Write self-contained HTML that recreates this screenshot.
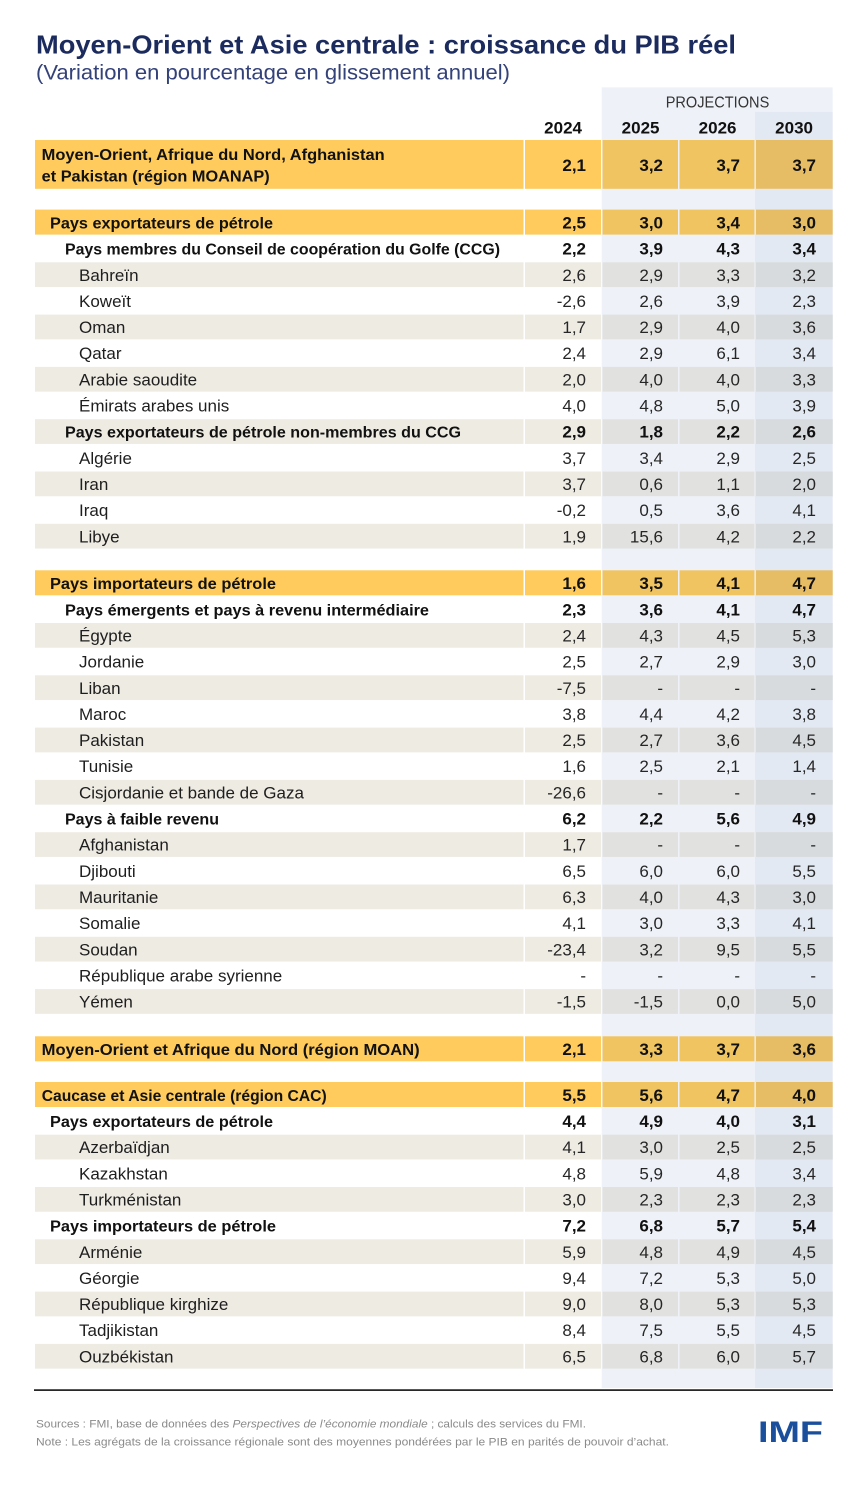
<!DOCTYPE html>
<html lang="fr">
<head>
<meta charset="utf-8">
<style>
html,body{margin:0;padding:0;background:#fff;}
body{width:867px;height:1488px;overflow:hidden;}
svg{display:block;}
.lr{font-family:"Liberation Sans",sans-serif;font-size:17px;fill:#1e1e1e;}
.lb{font-family:"Liberation Sans",sans-serif;font-size:16px;font-weight:bold;fill:#111;}
.n{font-family:"Liberation Sans",sans-serif;font-size:17px;fill:#262626;text-anchor:end;}
.nb{font-family:"Liberation Sans",sans-serif;font-size:17px;font-weight:bold;fill:#111;text-anchor:end;}
</style>
</head>
<body>
<svg width="867" height="1488" viewBox="0 0 867 1488" xmlns="http://www.w3.org/2000/svg">
<defs>
<g id="gy">
<rect x="35" y=".7" width="488.5" height="24.75" fill="#eeebe3"/>
<rect x="525" y=".7" width="76" height="24.75" fill="#eeebe3"/>
<rect x="602.5" y=".7" width="75.5" height="24.75" fill="#e1e2df"/>
<rect x="679.5" y=".7" width="75" height="24.75" fill="#e1e2df"/>
<rect x="756" y=".7" width="76.7" height="24.75" fill="#d8dbdd"/>
</g>
<g id="yl">
<rect x="35" y=".3" width="488.5" height="25" fill="#fecb5c"/>
<rect x="525" y=".3" width="76" height="25" fill="#fecb5c"/>
<rect x="602.5" y=".3" width="75.5" height="25" fill="#f0c461"/>
<rect x="679.5" y=".3" width="75" height="25" fill="#f0c461"/>
<rect x="756" y=".3" width="76.7" height="25" fill="#e6bd65"/>
</g>
</defs>

<!-- Title -->
<text x="36" y="53.5" font-family="Liberation Sans, sans-serif" font-size="26" font-weight="bold" fill="#1c2b5e" textLength="700" lengthAdjust="spacingAndGlyphs">Moyen-Orient et Asie centrale : croissance du PIB réel</text>
<text x="36" y="79.5" font-family="Liberation Sans, sans-serif" font-size="21" fill="#34427a" textLength="474" lengthAdjust="spacingAndGlyphs">(Variation en pourcentage en glissement annuel)</text>

<!-- Projection shading -->
<rect x="601.7" y="87.3" width="153.3" height="1300.7" fill="#eef2f8"/>
<rect x="755" y="87.3" width="77.7" height="24.4" fill="#eef2f8"/>
<rect x="755" y="111.7" width="77.7" height="1276.3" fill="#e3e9f2"/>

<text x="665.7" y="107.3" font-family="Liberation Sans, sans-serif" font-size="16" fill="#333" textLength="103.6" lengthAdjust="spacingAndGlyphs">PROJECTIONS</text>
<text class="nb" y="133.3"><tspan x="582">2024</tspan><tspan x="659.5">2025</tspan><tspan x="736.5">2026</tspan><tspan x="813">2030</tspan></text>

<!-- MOANAP -->
<g transform="translate(0,140)">
<rect x="35" y="0" width="488.5" height="48.8" fill="#fecb5c"/>
<rect x="525" y="0" width="76" height="48.8" fill="#fecb5c"/>
<rect x="602.5" y="0" width="75.5" height="48.8" fill="#f0c461"/>
<rect x="679.5" y="0" width="75" height="48.8" fill="#f0c461"/>
<rect x="756" y="0" width="76.7" height="48.8" fill="#e6bd65"/>
<text class="lb" x="41.7" y="20" textLength="343" lengthAdjust="spacingAndGlyphs">Moyen-Orient, Afrique du Nord, Afghanistan</text>
<text class="lb" x="41.7" y="41.7" textLength="228" lengthAdjust="spacingAndGlyphs">et Pakistan (région MOANAP)</text>
<text class="nb" y="31"><tspan x="586">2,1</tspan><tspan x="663">3,2</tspan><tspan x="740">3,7</tspan><tspan x="816">3,7</tspan></text>
</g>

<!-- Section 1 -->
<g transform="translate(0,209.3)"><use href="#yl"/>
<text class="lb" x="50" y="19.2" textLength="223" lengthAdjust="spacingAndGlyphs">Pays exportateurs de pétrole</text>
<text class="nb" y="19.2"><tspan x="586">2,5</tspan><tspan x="663">3,0</tspan><tspan x="740">3,4</tspan><tspan x="816">3,0</tspan></text></g>

<g transform="translate(0,235.45)">
<text class="lb" x="65" y="19.2" textLength="435" lengthAdjust="spacingAndGlyphs">Pays membres du Conseil de coopération du Golfe (CCG)</text>
<text class="nb" y="19.2"><tspan x="586">2,2</tspan><tspan x="663">3,9</tspan><tspan x="740">4,3</tspan><tspan x="816">3,4</tspan></text></g>

<g transform="translate(0,261.6)"><use href="#gy"/>
<text class="lr" x="79" y="19.2">Bahreïn</text>
<text class="n" y="19.2"><tspan x="586">2,6</tspan><tspan x="663">2,9</tspan><tspan x="740">3,3</tspan><tspan x="816">3,2</tspan></text></g>

<g transform="translate(0,287.75)">
<text class="lr" x="79" y="19.2">Koweït</text>
<text class="n" y="19.2"><tspan x="586">-2,6</tspan><tspan x="663">2,6</tspan><tspan x="740">3,9</tspan><tspan x="816">2,3</tspan></text></g>

<g transform="translate(0,313.9)"><use href="#gy"/>
<text class="lr" x="79" y="19.2">Oman</text>
<text class="n" y="19.2"><tspan x="586">1,7</tspan><tspan x="663">2,9</tspan><tspan x="740">4,0</tspan><tspan x="816">3,6</tspan></text></g>

<g transform="translate(0,340.05)">
<text class="lr" x="79" y="19.2">Qatar</text>
<text class="n" y="19.2"><tspan x="586">2,4</tspan><tspan x="663">2,9</tspan><tspan x="740">6,1</tspan><tspan x="816">3,4</tspan></text></g>

<g transform="translate(0,366.2)"><use href="#gy"/>
<text class="lr" x="79" y="19.2">Arabie saoudite</text>
<text class="n" y="19.2"><tspan x="586">2,0</tspan><tspan x="663">4,0</tspan><tspan x="740">4,0</tspan><tspan x="816">3,3</tspan></text></g>

<g transform="translate(0,392.35)">
<text class="lr" x="79" y="19.2">Émirats arabes unis</text>
<text class="n" y="19.2"><tspan x="586">4,0</tspan><tspan x="663">4,8</tspan><tspan x="740">5,0</tspan><tspan x="816">3,9</tspan></text></g>

<g transform="translate(0,418.5)"><use href="#gy"/>
<text class="lb" x="65" y="19.2" textLength="396" lengthAdjust="spacingAndGlyphs">Pays exportateurs de pétrole non-membres du CCG</text>
<text class="nb" y="19.2"><tspan x="586">2,9</tspan><tspan x="663">1,8</tspan><tspan x="740">2,2</tspan><tspan x="816">2,6</tspan></text></g>

<g transform="translate(0,444.65)">
<text class="lr" x="79" y="19.2">Algérie</text>
<text class="n" y="19.2"><tspan x="586">3,7</tspan><tspan x="663">3,4</tspan><tspan x="740">2,9</tspan><tspan x="816">2,5</tspan></text></g>

<g transform="translate(0,470.8)"><use href="#gy"/>
<text class="lr" x="79" y="19.2">Iran</text>
<text class="n" y="19.2"><tspan x="586">3,7</tspan><tspan x="663">0,6</tspan><tspan x="740">1,1</tspan><tspan x="816">2,0</tspan></text></g>

<g transform="translate(0,496.95)">
<text class="lr" x="79" y="19.2">Iraq</text>
<text class="n" y="19.2"><tspan x="586">-0,2</tspan><tspan x="663">0,5</tspan><tspan x="740">3,6</tspan><tspan x="816">4,1</tspan></text></g>

<g transform="translate(0,523.1)"><use href="#gy"/>
<text class="lr" x="79" y="19.2">Libye</text>
<text class="n" y="19.2"><tspan x="586">1,9</tspan><tspan x="663">15,6</tspan><tspan x="740">4,2</tspan><tspan x="816">2,2</tspan></text></g>

<!-- Section 2 -->
<g transform="translate(0,570)"><use href="#yl"/>
<text class="lb" x="50" y="19.2" textLength="226" lengthAdjust="spacingAndGlyphs">Pays importateurs de pétrole</text>
<text class="nb" y="19.2"><tspan x="586">1,6</tspan><tspan x="663">3,5</tspan><tspan x="740">4,1</tspan><tspan x="816">4,7</tspan></text></g>

<g transform="translate(0,596.15)">
<text class="lb" x="65" y="19.2" textLength="364" lengthAdjust="spacingAndGlyphs">Pays émergents et pays à revenu intermédiaire</text>
<text class="nb" y="19.2"><tspan x="586">2,3</tspan><tspan x="663">3,6</tspan><tspan x="740">4,1</tspan><tspan x="816">4,7</tspan></text></g>

<g transform="translate(0,622.3)"><use href="#gy"/>
<text class="lr" x="79" y="19.2">Égypte</text>
<text class="n" y="19.2"><tspan x="586">2,4</tspan><tspan x="663">4,3</tspan><tspan x="740">4,5</tspan><tspan x="816">5,3</tspan></text></g>

<g transform="translate(0,648.45)">
<text class="lr" x="79" y="19.2">Jordanie</text>
<text class="n" y="19.2"><tspan x="586">2,5</tspan><tspan x="663">2,7</tspan><tspan x="740">2,9</tspan><tspan x="816">3,0</tspan></text></g>

<g transform="translate(0,674.6)"><use href="#gy"/>
<text class="lr" x="79" y="19.2">Liban</text>
<text class="n" y="19.2"><tspan x="586">-7,5</tspan><tspan x="663">-</tspan><tspan x="740">-</tspan><tspan x="816">-</tspan></text></g>

<g transform="translate(0,700.75)">
<text class="lr" x="79" y="19.2">Maroc</text>
<text class="n" y="19.2"><tspan x="586">3,8</tspan><tspan x="663">4,4</tspan><tspan x="740">4,2</tspan><tspan x="816">3,8</tspan></text></g>

<g transform="translate(0,726.9)"><use href="#gy"/>
<text class="lr" x="79" y="19.2">Pakistan</text>
<text class="n" y="19.2"><tspan x="586">2,5</tspan><tspan x="663">2,7</tspan><tspan x="740">3,6</tspan><tspan x="816">4,5</tspan></text></g>

<g transform="translate(0,753.05)">
<text class="lr" x="79" y="19.2">Tunisie</text>
<text class="n" y="19.2"><tspan x="586">1,6</tspan><tspan x="663">2,5</tspan><tspan x="740">2,1</tspan><tspan x="816">1,4</tspan></text></g>

<g transform="translate(0,779.2)"><use href="#gy"/>
<text class="lr" x="79" y="19.2">Cisjordanie et bande de Gaza</text>
<text class="n" y="19.2"><tspan x="586">-26,6</tspan><tspan x="663">-</tspan><tspan x="740">-</tspan><tspan x="816">-</tspan></text></g>

<g transform="translate(0,805.35)">
<text class="lb" x="65" y="19.2" textLength="154" lengthAdjust="spacingAndGlyphs">Pays à faible revenu</text>
<text class="nb" y="19.2"><tspan x="586">6,2</tspan><tspan x="663">2,2</tspan><tspan x="740">5,6</tspan><tspan x="816">4,9</tspan></text></g>

<g transform="translate(0,831.5)"><use href="#gy"/>
<text class="lr" x="79" y="19.2">Afghanistan</text>
<text class="n" y="19.2"><tspan x="586">1,7</tspan><tspan x="663">-</tspan><tspan x="740">-</tspan><tspan x="816">-</tspan></text></g>

<g transform="translate(0,857.65)">
<text class="lr" x="79" y="19.2">Djibouti</text>
<text class="n" y="19.2"><tspan x="586">6,5</tspan><tspan x="663">6,0</tspan><tspan x="740">6,0</tspan><tspan x="816">5,5</tspan></text></g>

<g transform="translate(0,883.8)"><use href="#gy"/>
<text class="lr" x="79" y="19.2">Mauritanie</text>
<text class="n" y="19.2"><tspan x="586">6,3</tspan><tspan x="663">4,0</tspan><tspan x="740">4,3</tspan><tspan x="816">3,0</tspan></text></g>

<g transform="translate(0,909.95)">
<text class="lr" x="79" y="19.2">Somalie</text>
<text class="n" y="19.2"><tspan x="586">4,1</tspan><tspan x="663">3,0</tspan><tspan x="740">3,3</tspan><tspan x="816">4,1</tspan></text></g>

<g transform="translate(0,936.1)"><use href="#gy"/>
<text class="lr" x="79" y="19.2">Soudan</text>
<text class="n" y="19.2"><tspan x="586">-23,4</tspan><tspan x="663">3,2</tspan><tspan x="740">9,5</tspan><tspan x="816">5,5</tspan></text></g>

<g transform="translate(0,962.25)">
<text class="lr" x="79" y="19.2">République arabe syrienne</text>
<text class="n" y="19.2"><tspan x="586">-</tspan><tspan x="663">-</tspan><tspan x="740">-</tspan><tspan x="816">-</tspan></text></g>

<g transform="translate(0,988.4)"><use href="#gy"/>
<text class="lr" x="79" y="19.2">Yémen</text>
<text class="n" y="19.2"><tspan x="586">-1,5</tspan><tspan x="663">-1,5</tspan><tspan x="740">0,0</tspan><tspan x="816">5,0</tspan></text></g>

<!-- MOAN -->
<g transform="translate(0,1036)"><use href="#yl"/>
<text class="lb" x="41.7" y="19.2" textLength="378" lengthAdjust="spacingAndGlyphs">Moyen-Orient et Afrique du Nord (région MOAN)</text>
<text class="nb" y="19.2"><tspan x="586">2,1</tspan><tspan x="663">3,3</tspan><tspan x="740">3,7</tspan><tspan x="816">3,6</tspan></text></g>

<!-- Section 3 -->
<g transform="translate(0,1081.7)"><use href="#yl"/>
<text class="lb" x="41.7" y="19.2" textLength="285" lengthAdjust="spacingAndGlyphs">Caucase et Asie centrale (région CAC)</text>
<text class="nb" y="19.2"><tspan x="586">5,5</tspan><tspan x="663">5,6</tspan><tspan x="740">4,7</tspan><tspan x="816">4,0</tspan></text></g>

<g transform="translate(0,1107.85)">
<text class="lb" x="50" y="19.2" textLength="223" lengthAdjust="spacingAndGlyphs">Pays exportateurs de pétrole</text>
<text class="nb" y="19.2"><tspan x="586">4,4</tspan><tspan x="663">4,9</tspan><tspan x="740">4,0</tspan><tspan x="816">3,1</tspan></text></g>

<g transform="translate(0,1134)"><use href="#gy"/>
<text class="lr" x="79" y="19.2">Azerbaïdjan</text>
<text class="n" y="19.2"><tspan x="586">4,1</tspan><tspan x="663">3,0</tspan><tspan x="740">2,5</tspan><tspan x="816">2,5</tspan></text></g>

<g transform="translate(0,1160.15)">
<text class="lr" x="79" y="19.2">Kazakhstan</text>
<text class="n" y="19.2"><tspan x="586">4,8</tspan><tspan x="663">5,9</tspan><tspan x="740">4,8</tspan><tspan x="816">3,4</tspan></text></g>

<g transform="translate(0,1186.3)"><use href="#gy"/>
<text class="lr" x="79" y="19.2">Turkménistan</text>
<text class="n" y="19.2"><tspan x="586">3,0</tspan><tspan x="663">2,3</tspan><tspan x="740">2,3</tspan><tspan x="816">2,3</tspan></text></g>

<g transform="translate(0,1212.45)">
<text class="lb" x="50" y="19.2" textLength="226" lengthAdjust="spacingAndGlyphs">Pays importateurs de pétrole</text>
<text class="nb" y="19.2"><tspan x="586">7,2</tspan><tspan x="663">6,8</tspan><tspan x="740">5,7</tspan><tspan x="816">5,4</tspan></text></g>

<g transform="translate(0,1238.6)"><use href="#gy"/>
<text class="lr" x="79" y="19.2">Arménie</text>
<text class="n" y="19.2"><tspan x="586">5,9</tspan><tspan x="663">4,8</tspan><tspan x="740">4,9</tspan><tspan x="816">4,5</tspan></text></g>

<g transform="translate(0,1264.75)">
<text class="lr" x="79" y="19.2">Géorgie</text>
<text class="n" y="19.2"><tspan x="586">9,4</tspan><tspan x="663">7,2</tspan><tspan x="740">5,3</tspan><tspan x="816">5,0</tspan></text></g>

<g transform="translate(0,1290.9)"><use href="#gy"/>
<text class="lr" x="79" y="19.2">République kirghize</text>
<text class="n" y="19.2"><tspan x="586">9,0</tspan><tspan x="663">8,0</tspan><tspan x="740">5,3</tspan><tspan x="816">5,3</tspan></text></g>

<g transform="translate(0,1317.05)">
<text class="lr" x="79" y="19.2">Tadjikistan</text>
<text class="n" y="19.2"><tspan x="586">8,4</tspan><tspan x="663">7,5</tspan><tspan x="740">5,5</tspan><tspan x="816">4,5</tspan></text></g>

<g transform="translate(0,1343.2)"><use href="#gy"/>
<text class="lr" x="79" y="19.2">Ouzbékistan</text>
<text class="n" y="19.2"><tspan x="586">6,5</tspan><tspan x="663">6,8</tspan><tspan x="740">6,0</tspan><tspan x="816">5,7</tspan></text></g>

<!-- bottom rule -->
<rect x="34" y="1389.3" width="799" height="1.6" fill="#111"/>

<!-- footer -->
<text x="36" y="1427.5" font-family="Liberation Sans, sans-serif" font-size="11" fill="#8a8a8a" textLength="550" lengthAdjust="spacingAndGlyphs">Sources : FMI, base de données des <tspan font-style="italic">Perspectives de l’économie mondiale</tspan> ; calculs des services du FMI.</text>
<text x="36" y="1445.5" font-family="Liberation Sans, sans-serif" font-size="11" fill="#8a8a8a" textLength="633" lengthAdjust="spacingAndGlyphs">Note : Les agrégats de la croissance régionale sont des moyennes pondérées par le PIB en parités de pouvoir d’achat.</text>
<text x="758" y="1442" font-family="Liberation Sans, sans-serif" font-size="30" font-weight="bold" fill="#1b4f9c" textLength="65" lengthAdjust="spacingAndGlyphs">IMF</text>
</svg>
</body>
</html>
